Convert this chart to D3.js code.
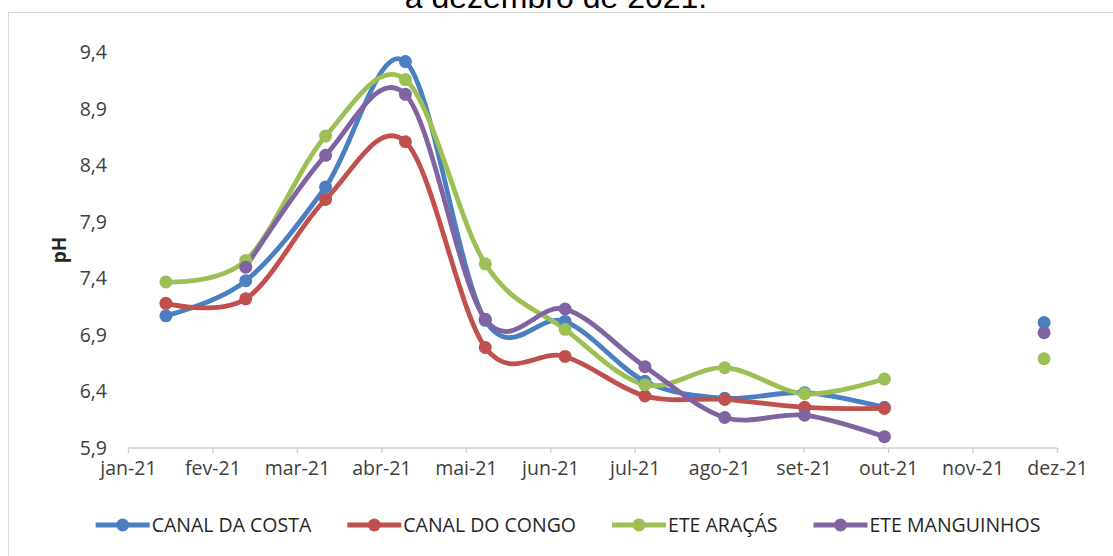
<!DOCTYPE html>
<html>
<head>
<meta charset="utf-8">
<script src="https://cdn.jsdelivr.net/npm/d3@7"></script>
<style>
  html, body { margin: 0; padding: 0; background: #fff; }
  svg { display: block; }
</style>
</head>
<body>
<svg id="chart" width="1113" height="556"></svg>
<script>
// Monthly pH readings, January to December 2021
const months = ["jan-21", "fev-21", "mar-21", "abr-21", "mai-21", "jun-21",
                "jul-21", "ago-21", "set-21", "out-21", "nov-21", "dez-21"];

const canalDaCosta  = [7.07, 7.38, 8.21, 9.32, 7.03, 7.02, 6.49, 6.34, 6.39, 6.26, null, 7.01];
const canalDoCongo  = [7.18, 7.22, 8.10, 8.61, 6.79, 6.71, 6.36, 6.33, 6.26, 6.25, null, null];
const eteAracas     = [7.37, 7.56, 8.66, 9.16, 7.53, 6.95, 6.46, 6.61, 6.38, 6.51, null, 6.69];
const eteManguinhos = [null, 7.50, 8.49, 9.03, 7.04, 7.13, 6.62, 6.17, 6.19, 6.00, null, 6.92];

const seriesNames  = ["CANAL DA COSTA", "CANAL DO CONGO", "ETE ARAÇÁS", "ETE MANGUINHOS"];
const seriesColors = ["#4a80c2", "#c0504d", "#9cc055", "#8064a2"];
const yTicks = [5.9, 6.4, 6.9, 7.4, 7.9, 8.4, 8.9, 9.4];

const series = [canalDaCosta, canalDoCongo, eteAracas, eteManguinhos].map((vals, i) => ({
  name: seriesNames[i],
  color: seriesColors[i],
  values: vals.map((v, j) => ({ month: months[j], value: v }))
}));

const svg = d3.select("#chart");
const font = "'Open Sans', 'Noto Sans', sans-serif";

// Outer frame
svg.append("rect")
  .attr("x", 8.5).attr("y", 12.5)
  .attr("width", 1120).attr("height", 560)
  .attr("fill", "#fff")
  .attr("stroke", "#d9d9d9").attr("stroke-width", 1);

// Tail of the caption above the frame
svg.append("text")
  .attr("x", 556).attr("y", 8)
  .attr("text-anchor", "middle")
  .attr("font-family", "'Liberation Sans', Arial, sans-serif")
  .attr("font-size", 32)
  .attr("fill", "#000")
  .text("a dezembro de 2021.");

// Scales
const xData = d3.scaleBand().domain(months).range([126, 1084]);
const xAxisScale = d3.scalePoint().domain(months).range([128, 1057]);
const y = d3.scaleLinear().domain([5.9, 9.4]).range([448, 52.5]);
const px = m => xData(m) + xData.bandwidth() / 2;

// Y axis (labels only)
const yAxis = d3.axisLeft(y)
  .tickValues(yTicks)
  .tickSize(0)
  .tickPadding(0)
  .tickFormat(d => d3.format(".1f")(d).replace(".", ","));
const gy = svg.append("g").attr("transform", "translate(107,0)").call(yAxis);
gy.select(".domain").remove();
gy.selectAll("text")
  .attr("font-family", font).attr("font-size", 19.5)
  .attr("fill", "#404040");

// X axis
const xAxis = d3.axisBottom(xAxisScale).tickSize(5).tickPadding(8);
const gx = svg.append("g").attr("transform", "translate(0,448)").call(xAxis);
gx.select(".domain").attr("stroke", "#d0d0d0").attr("stroke-width", 1.5)
  .attr("d", `M${xAxisScale.range()[0]},0H${xAxisScale.range()[1]}`);
gx.selectAll(".tick line").attr("stroke", "#d0d0d0").attr("stroke-width", 1.5);
gx.selectAll("text")
  .attr("font-family", font).attr("font-size", 19.5)
  .attr("fill", "#404040");

// Y axis title
svg.append("text")
  .attr("transform", "translate(66,250) rotate(-90)")
  .attr("text-anchor", "middle")
  .attr("font-family", font).attr("font-size", 19).attr("font-weight", "bold")
  .attr("fill", "#262626")
  .text("pH");

// Smoothed lines with gaps where there is no reading
const line = d3.line()
  .defined(d => d.value != null)
  .x(d => px(d.month))
  .y(d => y(d.value))
  .curve(d3.curveCardinal.tension(0));

const gSeries = svg.append("g");
series.forEach(s => {
  gSeries.append("path")
    .datum(s.values)
    .attr("d", line)
    .attr("fill", "none")
    .attr("stroke", s.color)
    .attr("stroke-width", 4.8)
    .attr("stroke-linejoin", "round")
    .attr("stroke-linecap", "round");
});
series.forEach(s => {
  gSeries.append("g").selectAll("circle")
    .data(s.values.filter(d => d.value != null))
    .join("circle")
    .attr("cx", d => px(d.month))
    .attr("cy", d => y(d.value))
    .attr("r", 6.5)
    .attr("fill", s.color);
});

// Legend
const legend = svg.append("g").attr("transform", "translate(0,525)");
const items = legend.selectAll("g").data(series).join("g");
items.append("line")
  .attr("x1", 0).attr("x2", 54).attr("y1", 0).attr("y2", 0)
  .attr("stroke", d => d.color).attr("stroke-width", 4.8);
items.append("circle")
  .attr("cx", 27).attr("cy", 0).attr("r", 6.5)
  .attr("fill", d => d.color);
items.append("text")
  .attr("x", 56).attr("y", 0).attr("dy", "0.35em")
  .attr("font-family", font).attr("font-size", 19.5)
  .attr("fill", "#262626")
  .text(d => d.name);

const gap = 36;
let widths = [];
items.each(function () {
  widths.push(56 + d3.select(this).select("text").node().getComputedTextLength());
});
const total = d3.sum(widths) + gap * (widths.length - 1);
let cursor = 568 - total / 2;
items.attr("transform", (d, i) => {
  const t = `translate(${cursor},0)`;
  cursor += widths[i] + gap;
  return t;
});
</script>
</body>
</html>
